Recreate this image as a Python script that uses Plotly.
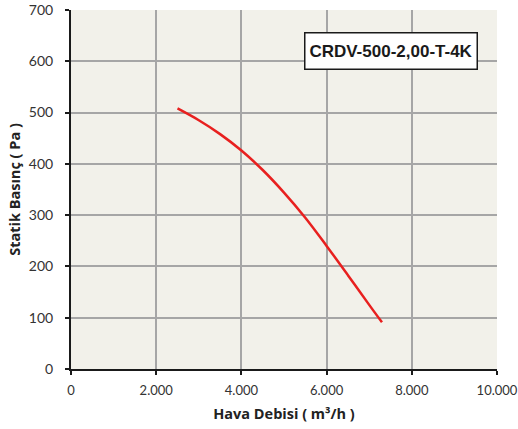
import plotly.graph_objects as go

flow = [2500, 3000, 3500, 4000, 4500, 5000, 5500, 6000, 6500, 7000, 7300]
pressure = [508, 485, 458, 426, 388, 344, 295, 240, 183, 125, 91]

x_ticks = [0, 2000, 4000, 6000, 8000, 10000]
x_ticktext = ["0", "2.000", "4.000", "6.000", "8.000", "10.000"]
y_ticks = [0, 100, 200, 300, 400, 500, 600, 700]

label = "CRDV-500-2,00-T-4K"
x_title = "Hava Debisi ( m³/h )"
y_title = "Statik Basınç ( Pa )"

fig = go.Figure()
fig.add_trace(go.Scatter(x=flow, y=pressure, mode="lines",
                         line=dict(color="#E8201F", width=2.5, shape="spline", smoothing=1),
                         showlegend=False, hoverinfo="skip"))

x_tick_font = dict(family="Lato, Open Sans, sans-serif", size=13, color="#333333")
y_tick_font = dict(family="Lato, Open Sans, sans-serif", size=14, color="#333333")
title_font = dict(family="Open Sans, sans-serif", size=14.5, color="#222222")
fig.update_layout(
    width=518, height=429,
    margin=dict(l=71, r=21, t=10, b=60, autoexpand=False),
    paper_bgcolor="white",
    plot_bgcolor="#F2F1EA",
    xaxis=dict(range=[0, 10000], tickvals=x_ticks, ticktext=x_ticktext, showgrid=True, gridcolor="#A6A6A6", gridwidth=1.5,
               showline=True, linecolor="#1a1a1a", linewidth=2, ticks="outside", ticklen=4, tickcolor="#1a1a1a", tickwidth=1.5,
               tickfont=x_tick_font, zeroline=False, automargin=False, ticklabelstandoff=4,
               title=dict(text="<b>" + x_title + "</b>", font=title_font, standoff=12)),
    yaxis=dict(range=[0, 700], tickvals=y_ticks, showgrid=True, gridcolor="#A6A6A6", gridwidth=1.5,
               showline=True, linecolor="#1a1a1a", linewidth=2, ticks="outside", ticklen=4, tickcolor="#1a1a1a", tickwidth=1.5,
               tickfont=y_tick_font, zeroline=False, automargin=False, ticklabelstandoff=9,
               title=dict(text="<b>" + y_title + "</b>", font=title_font, standoff=5)),
    annotations=[dict(x=7500, y=620, xref="x", yref="y", text="<b>" + label + "</b>", showarrow=False,
                      font=dict(family="Liberation Sans, Arial, sans-serif", size=17, color="#1a1a1a"),
                      width=168, height=32,
                      bgcolor="white", bordercolor="#1a1a1a", borderwidth=1.5, borderpad=1.5)],
)

fig.write_html("out.html", config={"displayModeBar": False},
               post_script="document.body.style.margin='0';document.body.style.overflow='hidden';")
